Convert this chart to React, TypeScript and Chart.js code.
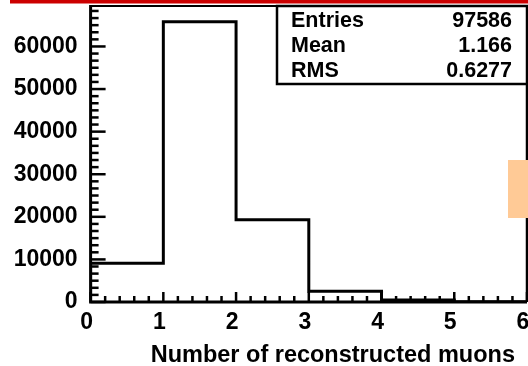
import React, { useEffect, useRef } from "react";
import { Chart, registerables } from "chart.js";

Chart.register(...registerables);

// Histogram: number of reconstructed muons per event
const binEdges = [0, 1, 2, 3, 4, 5, 6];
const binCounts = [9100, 65800, 19300, 2500, 470, 40];
const yMax = 69500;
const yTickValues = [0, 10000, 20000, 30000, 40000, 50000, 60000];
const xTickValues = [0, 1, 2, 3, 4, 5, 6];
const statNames = ["Entries", "Mean", "RMS"];
const statValues = ["97586", "1.166", "0.6277"];
const xTitle = "Number of reconstructed muons";

const FONT = '"Liberation Sans", Arial, Helvetica, sans-serif';

const framePlugin = {
  id: "rootFrame",
  afterDraw(chart: any) {
    const { ctx, chartArea } = chart;
    const xs = chart.scales.x;
    const ys = chart.scales.y;
    const L = chartArea.left;
    const R = chartArea.right;
    const T = chartArea.top;
    const B = chartArea.bottom;
    ctx.save();
    ctx.strokeStyle = "#000";
    ctx.lineCap = "butt";

    // frame
    ctx.lineWidth = 2;
    ctx.beginPath();
    ctx.moveTo(L, T);
    ctx.lineTo(R, T);
    ctx.stroke();
    ctx.lineWidth = 2.5;
    ctx.beginPath();
    ctx.moveTo(R, T);
    ctx.lineTo(R, B);
    ctx.stroke();
    ctx.lineWidth = 3;
    ctx.beginPath();
    ctx.moveTo(L, T - 1);
    ctx.lineTo(L, B + 1.5);
    ctx.moveTo(L - 1.5, B);
    ctx.lineTo(R, B);
    ctx.stroke();

    // y ticks (inward), six subdivisions per labelled step
    ctx.lineWidth = 2.5;
    const yStep = yTickValues[1] - yTickValues[0];
    const ySub = yStep / 6;
    for (let k = 0; k * ySub <= yMax; k++) {
      const v = k * ySub;
      const major = k % 6 === 0;
      const py = ys.getPixelForValue(v);
      if (py < T + 2) continue;
      ctx.beginPath();
      ctx.moveTo(L, py);
      ctx.lineTo(L + (major ? 15 : 8), py);
      ctx.stroke();
    }
    // x ticks (inward), five subdivisions per unit
    for (let k = 0; k <= 30; k++) {
      const v = k / 5;
      const major = k % 5 === 0;
      const px = xs.getPixelForValue(v);
      ctx.beginPath();
      ctx.moveTo(px, B);
      ctx.lineTo(px, B - (major ? 10 : 6));
      ctx.stroke();
    }

    // statistics box
    const bx = 277;
    const by = T;
    const bw = R - bx;
    const bh = 78;
    ctx.fillStyle = "#fff";
    ctx.fillRect(bx, by, bw, bh);
    ctx.lineWidth = 2.5;
    ctx.strokeRect(bx, by, bw, bh);
    ctx.fillStyle = "#000";
    ctx.font = `bold 21.5px ${FONT}`;
    ctx.textBaseline = "alphabetic";
    statNames.forEach((name, i) => {
      const base = by + 21 + i * 25;
      ctx.textAlign = "left";
      ctx.fillText(name, 291, base);
      ctx.textAlign = "right";
      ctx.fillText(statValues[i], 512, base);
    });

    // x axis title
    ctx.font = `bold 23.5px ${FONT}`;
    ctx.textAlign = "right";
    ctx.fillText(xTitle, 515, 362);

    // slide decorations
    ctx.fillStyle = "#ffca96";
    ctx.fillRect(508, 160, 20, 58);
    ctx.fillStyle = "#cc0000";
    ctx.fillRect(10, 0, 518, 3.5);
    ctx.restore();
  },
};

const zeroPadding = (scale: any) => {
  scale.paddingTop = 0;
  scale.paddingBottom = 0;
  scale.paddingLeft = 0;
  scale.paddingRight = 0;
};

export default function App() {
  const ref = useRef<HTMLCanvasElement | null>(null);

  useEffect(() => {
    document.body.style.margin = "0";
    document.body.style.background = "#fff";
    const canvas = ref.current;
    if (!canvas) return;

    const points = [{ x: binEdges[0], y: 0 }];
    binCounts.forEach((c, i) => points.push({ x: binEdges[i], y: c }));
    points.push({ x: binEdges[binEdges.length - 1], y: binCounts[binCounts.length - 1] });

    const chart = new Chart(canvas, {
      type: "line",
      data: {
        datasets: [
          {
            data: points,
            stepped: "before",
            borderColor: "#000",
            borderWidth: 3,
            pointRadius: 0,
            fill: false,
            borderCapStyle: "square",
          } as any,
        ],
      },
      options: {
        animation: false,
        responsive: false,
        devicePixelRatio: 1,
        layout: { padding: { top: 6, right: 1, left: 0, bottom: 0 } },
        plugins: { legend: { display: false }, tooltip: { enabled: false } },
        scales: {
          x: {
            type: "linear",
            min: 0,
            max: 6,
            grid: { display: false, drawTicks: false },
            border: { display: false },
            afterBuildTicks(scale: any) {
              scale.ticks = xTickValues.map((v) => ({ value: v }));
            },
            ticks: {
              color: "#000",
              font: { family: FONT, size: 23, weight: "bold" },
              padding: 7,
              labelOffset: -4,
              maxRotation: 0,
              autoSkip: false,
              callback: (v: any) => String(v),
            },
            afterFit(scale: any) {
              scale.height = 64;
              zeroPadding(scale);
            },
          },
          y: {
            type: "linear",
            min: 0,
            max: yMax,
            grid: { display: false, drawTicks: false },
            border: { display: false },
            afterBuildTicks(scale: any) {
              scale.ticks = yTickValues.map((v) => ({ value: v }));
            },
            ticks: {
              color: "#000",
              font: { family: FONT, size: 23, weight: "bold" },
              padding: 13,
              autoSkip: false,
              callback: (v: any) => String(v),
            },
            afterFit(scale: any) {
              scale.width = 90.6;
              zeroPadding(scale);
            },
          },
        },
      } as any,
      plugins: [framePlugin],
    });
    return () => chart.destroy();
  }, []);

  return (
    <div style={{ width: 528, height: 366, overflow: "hidden" }}>
      <canvas ref={ref} width={528} height={366} style={{ display: "block" }} />
    </div>
  );
}
